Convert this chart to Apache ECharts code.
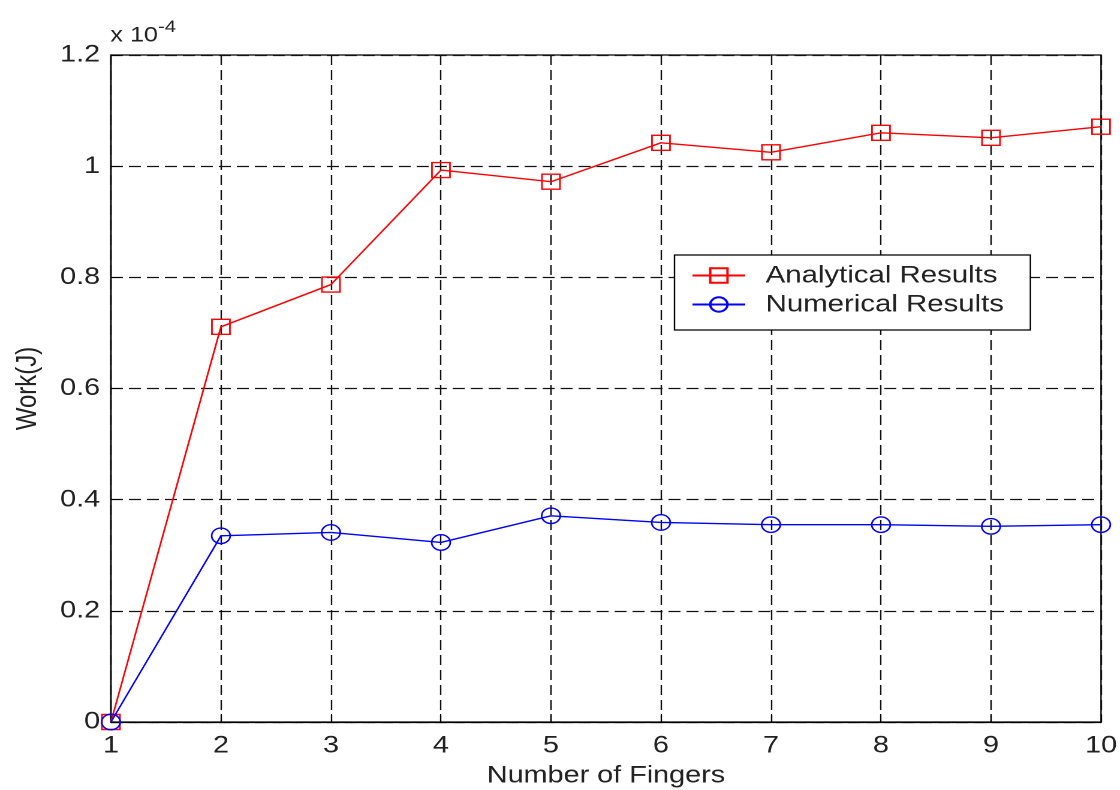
<!DOCTYPE html>
<html>
<head>
<meta charset="utf-8">
<script src="https://cdn.jsdelivr.net/npm/echarts@6/dist/echarts.min.js"></script>
<style>
  html, body { margin: 0; padding: 0; background: #fff; overflow: hidden; }
  /* The figure is laid out on a narrower canvas and widened, giving the broad lettering and oval markers */
  #chart { width: 934px; height: 790px; transform: scaleX(1.1991); transform-origin: 0 0; }
</style>
</head>
<body>
<div id="chart"></div>
<script>
// Number of fingers on the x axis
const fingers = [1, 2, 3, 4, 5, 6, 7, 8, 9, 10];
// Work in units of 1e-4 J
const analytical = [0, 0.711, 0.787, 0.993, 0.972, 1.042, 1.025, 1.060, 1.051, 1.071];
const numerical  = [0, 0.335, 0.341, 0.323, 0.371, 0.359, 0.355, 0.355, 0.352, 0.355];
const yTicks = [0, 0.2, 0.4, 0.6, 0.8, 1.0, 1.2];
const seriesNames = ['Analytical Results', 'Numerical Results'];

const FONT = '"Liberation Sans", Arial, sans-serif';
const TXT = '#222';
const pairs = (ys) => fingers.map((x, i) => [x, ys[i]]);

const chart = echarts.init(document.getElementById('chart'), null, { devicePixelRatio: 2 });
chart.setOption({
  backgroundColor: '#fff',
  animation: false,
  title: {
    text: 'x 10{sup|-4}',
    left: 87, top: 14,
    textStyle: {
      fontFamily: FONT, fontSize: 21, fontWeight: 'normal', color: TXT,
      rich: { sup: { fontFamily: FONT, fontSize: 17, color: TXT, verticalAlign: 'top', padding: [0, 0, 16, 0] } }
    }
  },
  grid: {
    left: 92.5, right: 15.8, top: 55, bottom: 68,
    outerBoundsMode: 'none', containLabel: false,
    show: true, borderColor: '#000', borderWidth: 1.2, backgroundColor: 'transparent'
  },
  legend: {
    orient: 'vertical',
    left: 562.5, top: 255,
    padding: [8, 22, 13, 14],
    itemGap: 4,
    itemWidth: 44, itemHeight: 18,
    backgroundColor: '#fff',
    borderColor: '#000', borderWidth: 1.2,
    textStyle: { fontFamily: FONT, fontSize: 24.5, color: TXT, padding: [0, 0, 0, 12] },
    data: seriesNames
  },
  xAxis: {
    type: 'value', min: 1, max: 10, interval: 1,
    name: 'Number of Fingers', nameLocation: 'middle', nameGap: 42,
    nameTextStyle: { fontFamily: FONT, fontSize: 24, color: TXT },
    axisLine: { show: true, lineStyle: { color: '#000', width: 1.2 } },
    axisTick: { show: true, inside: true, length: 8, lineStyle: { color: '#000' } },
    axisLabel: { fontFamily: FONT, fontSize: 24, color: TXT, margin: 12 },
    splitLine: { show: true, lineStyle: { color: '#111', type: [10, 5], width: 1.2 } }
  },
  yAxis: {
    type: 'value', min: 0, max: 1.2, interval: 0.2,
    name: 'Work(J)', nameLocation: 'middle', nameGap: 57, nameRotate: 90,
    nameTextStyle: { fontFamily: FONT, fontSize: 24, color: TXT },
    axisLine: { show: true, lineStyle: { color: '#000', width: 1.2 } },
    axisTick: { show: true, inside: true, length: 8, lineStyle: { color: '#000' } },
    axisLabel: {
      fontFamily: FONT, fontSize: 24, color: TXT, margin: 9,
      formatter: (v) => {
        const t = yTicks.find(k => Math.abs(k - v) < 1e-9);
        return t === undefined ? '' : String(t);
      }
    },
    splitLine: { show: true, lineStyle: { color: '#111', type: [10, 5], width: 1.2 } }
  },
  series: [
    {
      name: seriesNames[0], type: 'line', data: pairs(analytical),
      symbol: 'rect', symbolSize: 15,
      lineStyle: { color: '#ff0000', width: 1.4 },
      itemStyle: { color: 'rgba(0,0,0,0)', borderColor: '#ff0000', borderWidth: 1.4 },
      z: 2
    },
    {
      name: seriesNames[1], type: 'line', data: pairs(numerical),
      symbol: 'circle', symbolSize: 15.5,
      lineStyle: { color: '#0000ff', width: 1.4 },
      itemStyle: { color: 'rgba(0,0,0,0)', borderColor: '#0000ff', borderWidth: 1.4 },
      z: 3
    }
  ]
});
</script>
</body>
</html>
